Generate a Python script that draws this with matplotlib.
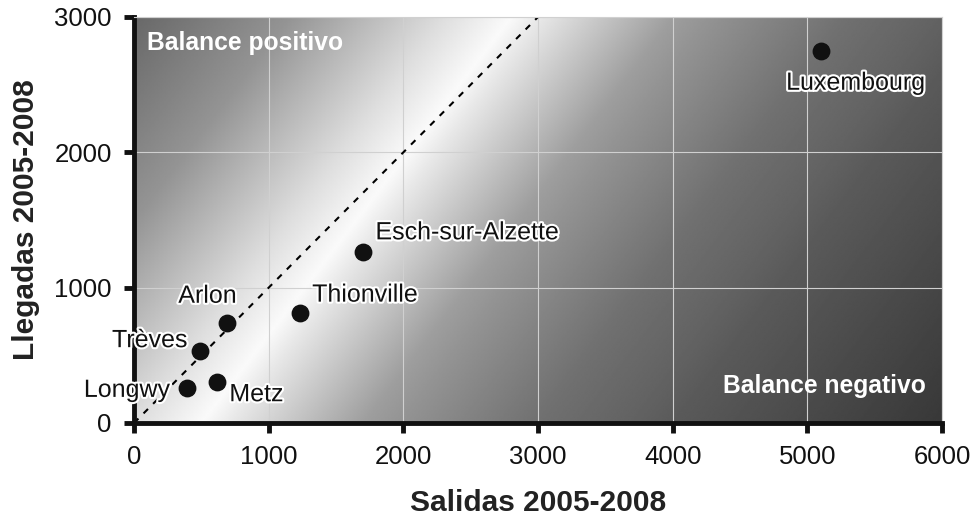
import numpy as np
import matplotlib
matplotlib.use("Agg")
import matplotlib.pyplot as plt
import matplotlib.patheffects as pe

# valores
ciudades = ["Luxembourg", "Esch-sur-Alzette", "Thionville", "Arlon", "Trèves", "Longwy", "Metz"]
salidas = [5100, 1700, 1230, 690, 490, 390, 615]
llegadas = [2750, 1265, 815, 740, 530, 260, 305]

x_ticks = [0, 1000, 2000, 3000, 4000, 5000, 6000]
y_ticks = [0, 1000, 2000, 3000]

# posición de cada etiqueta (offset en puntos, alineación)
etiquetas = {
    "Luxembourg": ((25, -23), "center"),
    "Esch-sur-Alzette": ((9, 14), "left"),
    "Thionville": ((9, 13), "left"),
    "Arlon": ((-14, 19.5), "center"),
    "Trèves": ((-9, 8), "right"),
    "Longwy": ((-12, -1.5), "right"),
    "Metz": ((9, -9), "left"),
}

plt.rcParams['font.family'] = ['Liberation Sans', 'DejaVu Sans']

fig = plt.figure(figsize=(9.76, 5.21), dpi=100)
ax = fig.add_axes([0.1373, 0.1881, 0.8279, 0.7793])

# fondo degradado: blanco cerca de la diagonal, oscuro hacia las esquinas
W, H = 808, 406
fx, fy = np.meshgrid(np.linspace(0, 1, 600), np.linspace(0, 1, 300))
px = fx * W
py = (1 - fy) * H
n = np.array([406, 310]) / np.hypot(406, 310)
u = (px - 0.0833 * W) * n[0] + (py - H) * n[1]
stops_u = [-320, -300, -176, -53, 0, 23, 129, 162, 268, 343, 375, 589, 620]
stops_v = [100, 104, 148, 222, 250, 232, 158, 146, 112, 98, 90, 56, 54]
v = np.interp(u, stops_u, stops_v) / 255.0
ax.imshow(v, cmap="gray", vmin=0, vmax=1, origin="lower",
          extent=[0, 6000, 0, 3000], aspect="auto", zorder=0, interpolation="bilinear")

ax.set_xlim(0, 6000)
ax.set_ylim(0, 3000)

for t in x_ticks[1:]:
    ax.axvline(t, color="#d0d0d0", lw=0.8, zorder=1)
for t in y_ticks[1:]:
    ax.axhline(t, color="#d0d0d0", lw=0.8, zorder=1)

ax.plot([0, 3000], [0, 3000], color="black", lw=1.5, dashes=(3, 3.5), zorder=2)

ax.scatter(salidas, llegadas, s=140, color="#111111", zorder=3)

halo = [pe.withStroke(linewidth=3, foreground="white")]
for nombre, xv, yv in zip(ciudades, salidas, llegadas):
    off, ha = etiquetas[nombre]
    ax.annotate(nombre, (xv, yv), xytext=off, textcoords="offset points",
                ha=ha, va="center", fontsize=18, color="#111111",
                path_effects=halo, zorder=4)

ax.text(0.016, 0.936, "Balance positivo", transform=ax.transAxes, ha="left", va="center",
        fontsize=17.7, fontweight="bold", color="white", zorder=4)
ax.text(0.980, 0.091, "Balance negativo", transform=ax.transAxes, ha="right", va="center",
        fontsize=17.7, fontweight="bold", color="white", zorder=4)

ax.set_xticks(x_ticks)
ax.set_yticks(y_ticks)
ax.tick_params(axis="both", labelsize=18.5, width=3.5, length=7, color="#111111",
               labelcolor="#111111")
ax.tick_params(axis="x", pad=9)
ax.tick_params(axis="y", pad=9)
ax.spines["left"].set_linewidth(3.5)
ax.spines["bottom"].set_linewidth(3.5)
ax.spines["left"].set_color("#111111")
ax.spines["bottom"].set_color("#111111")
ax.spines["top"].set_color("#d0d0d0")
ax.spines["right"].set_color("#d0d0d0")
ax.spines["top"].set_linewidth(0.8)
ax.spines["right"].set_linewidth(0.8)

ax.set_xlabel("Salidas 2005-2008", fontsize=21.5, fontweight="bold", color="#222222", labelpad=14)
ax.set_ylabel("Llegadas 2005-2008", fontsize=21.5, fontweight="bold", color="#222222", labelpad=10)

fig.savefig("out.png", dpi=100)
